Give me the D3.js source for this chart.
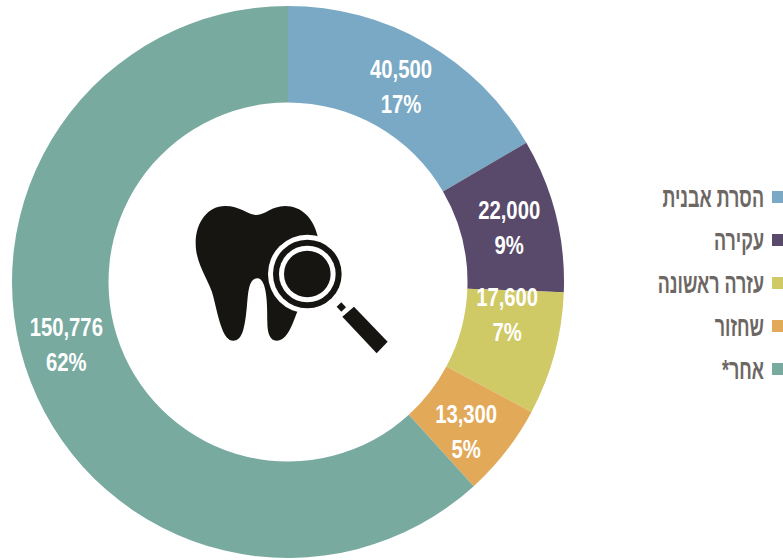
<!DOCTYPE html>
<html lang="he">
<head>
<meta charset="utf-8">
<script src="https://cdn.jsdelivr.net/npm/d3@7/dist/d3.min.js"></script>
<style>
html,body{margin:0;padding:0;background:#fff;overflow:hidden}
svg{display:block}
</style>
</head>
<body>
<svg id="chart" width="783" height="560"></svg>
<script>
const categories = ["הסרת אבנית", "עקירה", "עזרה ראשונה", "שחזור", "אחר*"];
const counts = [40500, 22000, 17600, 13300, 150776];
const percents = ["17%", "9%", "7%", "5%", "62%"];
const colours = ["#79a9c4", "#594a6b", "#cfc966", "#e2a959", "#78aaa0"];

const svg = d3.select("#chart");
const fontFamily = "'Liberation Sans Narrow','Liberation Sans',sans-serif";

// Donut ring
const cx = 288, cy = 282, rOuter = 276, rInner = 179.5;
const pie = d3.pie().sort(null).value(d => d)(counts);
const arc = d3.arc().innerRadius(rInner).outerRadius(rOuter);
const ring = svg.append("g").attr("transform", `translate(${cx},${cy})`);

ring.selectAll("path").data(pie).join("path")
  .attr("d", arc)
  .attr("fill", (d, i) => colours[i]);

// Slice labels sit near the ring's mid radius, nudged to clear the narrow slices
const labelArc = d3.arc().innerRadius(227).outerRadius(227);
const nudges = [[0, 1], [1, 0], [0, -27], [-1, 10], [-10, -20]];
const labels = ring.selectAll("g.slice-label").data(pie).join("g")
  .attr("class", "slice-label")
  .attr("transform", (d, i) => {
    const [x, y] = labelArc.centroid(d);
    return `translate(${x + nudges[i][0]},${y + nudges[i][1]})`;
  })
  .attr("fill", "#fff")
  .attr("font-family", fontFamily)
  .attr("font-weight", 700)
  .attr("text-anchor", "middle");

const labelText = (sel, dy, fn) => sel.append("text")
  .attr("transform", `translate(0,${dy}) scale(0.78,1)`)
  .attr("font-size", 26)
  .text(fn);

labelText(labels, -8, d => d3.format(",")(d.data));
labelText(labels, 27, (d, i) => percents[i]);

// Legend, right aligned with swatches on the outer edge
const legendY = d3.scalePoint().domain(categories).range([197, 369]);
const legend = svg.append("g").selectAll("g").data(categories).join("g")
  .attr("transform", d => `translate(0,${legendY(d)})`);

legend.append("rect")
  .attr("x", 772).attr("y", -6)
  .attr("width", 11).attr("height", 12)
  .attr("fill", (d, i) => colours[i]);

legend.append("text")
  .attr("transform", "translate(764,10) scale(0.64,1)")
  .attr("direction", "rtl")
  .attr("text-anchor", "start")
  .attr("font-family", fontFamily)
  .attr("font-weight", 700)
  .attr("font-size", 28)
  .attr("fill", "#6d6764")
  .text(d => d);

// Tooth with magnifying glass in the hole of the ring
const icon = svg.append("g").attr("transform", "translate(180,190) scale(0.3333)");
const ink = "#161512";

icon.append("path").attr("fill", ink).attr("d",
  "M230 75 C255 75 275 48 315 48 C365 48 400 85 412 135 L420 250 L350 370 " +
  "C335 410 320 452 290 452 C268 452 262 425 262 395 C262 350 262 265 232 265 " +
  "C200 265 205 330 198 375 C192 420 185 452 160 452 C130 452 118 395 100 320 " +
  "C88 270 47 225 47 160 C47 95 85 48 135 48 C180 48 205 75 230 75 Z");

const lensX = 382, lensY = 252;
[[118, "#fff"], [103, ink], [85, "#fff"], [70, ink]].forEach(([r, fill]) => {
  icon.append("circle").attr("cx", lensX).attr("cy", lensY).attr("r", r).attr("fill", fill);
});

icon.append("path").attr("fill", ink).attr("d", "M470 350 L484 337 L498 352 L484 365 Z");
icon.append("path").attr("fill", ink).attr("d", "M487 380 L522 350 L623 455 L590 490 Z");
</script>
</body>
</html>
